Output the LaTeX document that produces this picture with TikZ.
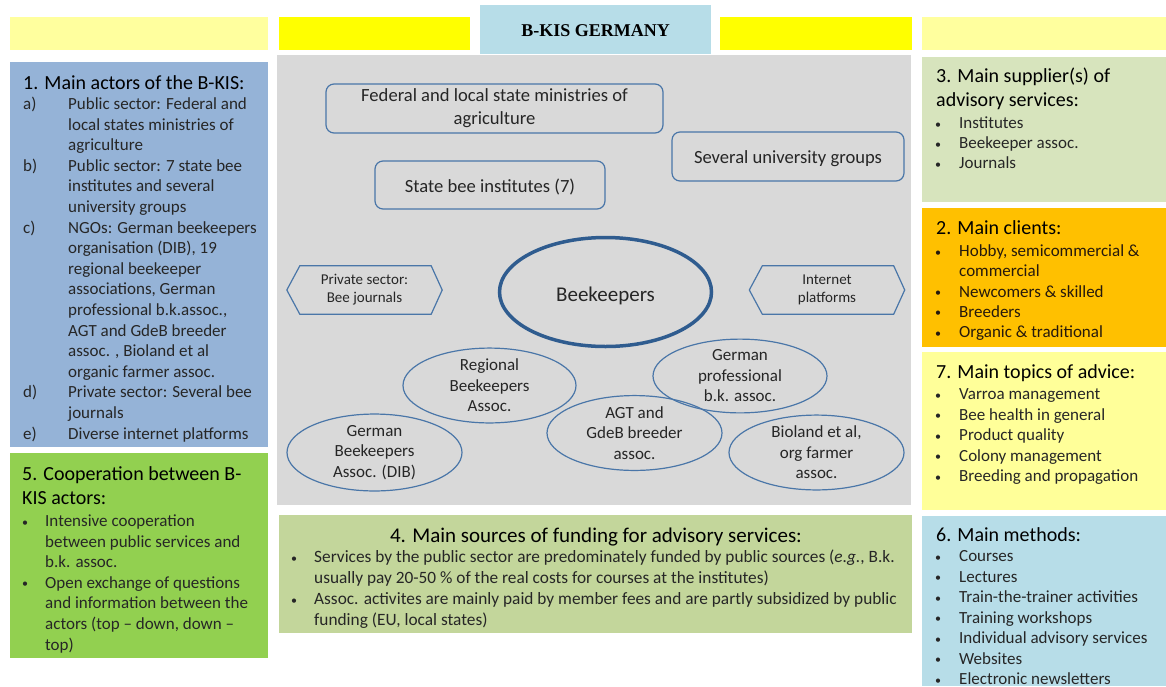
\documentclass[tikz,border=0pt]{standalone}
\usepackage{fontspec}
\setmainfont{Carlito}
\newfontfamily\titlefont{Liberation Serif}
\usetikzlibrary{shapes.geometric}
\definecolor{paleyel}{HTML}{FFFF9E}
\definecolor{brightyel}{HTML}{FFFF00}
\definecolor{titleblue}{HTML}{B7DDE8}
\definecolor{panelgray}{HTML}{D9D9D9}
\definecolor{actorblue}{HTML}{95B3D7}
\definecolor{coopgreen}{HTML}{92D050}
\definecolor{fundgreen}{HTML}{C3D69B}
\definecolor{supgreen}{HTML}{D7E4BD}
\definecolor{clientorange}{HTML}{FFC000}
\definecolor{topicyel}{HTML}{FFFF99}
\definecolor{methblue}{HTML}{B7DDE8}
\definecolor{nodeblue}{HTML}{4A76A8}
\definecolor{beeblue}{HTML}{2F5C8F}
\definecolor{bodytext}{HTML}{262626}
\newcommand\blt[1]{\makebox[#1][l]{\raisebox{0.5pt}{\fontsize{12}{12}\selectfont •}}}
\newcommand\lbl[2]{\makebox[#1][l]{#2}}
\newcommand\ind[1]{\hspace*{#1}}
\begin{document}
\begin{tikzpicture}[x=1pt,y=-1pt,
  panel/.style={draw=none,inner sep=0pt,anchor=north west},
  headtxt/.style={inner sep=0pt,anchor=base west,align=left,text=black,font=\fontsize{20}{24.3}\selectfont},
  bodytxt/.style={inner sep=0pt,anchor=base west,align=left,text=bodytext,font=\fontsize{17}{20.6}\selectfont},
  rbox/.style={draw=nodeblue,line width=1.2pt,rounded corners=8pt,inner sep=0pt,align=center,text=bodytext,font=\fontsize{18.6}{23}\selectfont},
  hexbox/.style={draw=none,inner sep=0pt,align=center,text=bodytext,font=\fontsize{15}{18}\selectfont,minimum width=155pt,minimum height=48pt},
  hexline/.style={draw=nodeblue,line width=1.2pt},
  oval/.style={ellipse,draw=nodeblue,line width=1.2pt,inner sep=0pt,align=center,text=bodytext,font=\fontsize{17}{20.5}\selectfont},
]
\useasboundingbox (0,0) rectangle (1166,686);
\fill[white] (0,0) rectangle (1166,686);

% top strips and title
\node[panel,fill=paleyel,minimum width=258pt,minimum height=33pt] (strip1) at (10,17) {};
\node[panel,fill=brightyel,minimum width=191pt,minimum height=33pt] (strip2) at (279,17) {};
\node[panel,fill=brightyel,minimum width=192pt,minimum height=33pt] (strip3) at (720,17) {};
\node[panel,fill=paleyel,minimum width=244pt,minimum height=33pt] (strip4) at (922,17) {};
\node[panel,fill=panelgray,minimum width=634pt,minimum height=450pt] (center) at (277,55) {};
\node[panel,fill=titleblue,minimum width=231pt,minimum height=49pt] (title) at (480,5) {};
\node[inner sep=0pt,font=\titlefont\bfseries\fontsize{18}{18}\selectfont,text=black] (titletxt) at (595.5,31) {B-KIS GERMANY};

% left panels (anchor base = baseline of the LAST line)
\node[panel,fill=actorblue,minimum width=258pt,minimum height=385pt] (actors) at (10,62) {};
\node[headtxt] (actorsh) at (23,89.5) {1. Main actors of the B-KIS:};
\node[bodytxt] (actorsb) at (23,439.1) {%
\lbl{45pt}{a)}Public sector: Federal and\\
\ind{45pt}local states ministries of\\
\ind{45pt}agriculture\\
\lbl{45pt}{b)}Public sector: 7 state bee\\
\ind{45pt}institutes and several\\
\ind{45pt}university groups\\
\lbl{45pt}{c)}NGOs: German beekeepers\\
\ind{45pt}organisation (DIB), 19\\
\ind{45pt}regional beekeeper\\
\ind{45pt}associations, German\\
\ind{45pt}professional b.k.assoc.,\\
\ind{45pt}AGT and GdeB breeder\\
\ind{45pt}assoc. , Bioland et al\\
\ind{45pt}organic farmer assoc.\\
\lbl{45pt}{d)}Private sector: Several bee\\
\ind{45pt}journals\\
\lbl{45pt}{e)}Diverse internet platforms};

\node[panel,fill=coopgreen,minimum width=258pt,minimum height=205pt] (coop) at (10,453) {};
\node[headtxt] (cooph) at (22,504.8) {5. Cooperation between B-\\KIS actors:};
\node[bodytxt] (coopb) at (22,650.1) {%
\blt{23pt}Intensive cooperation\\
\ind{23pt}between public services and\\
\ind{23pt}b.k. assoc.\\
\blt{23pt}Open exchange of questions\\
\ind{23pt}and information between the\\
\ind{23pt}actors (top -- down, down --\\
\ind{23pt}top)};

% bottom centre panel
\node[panel,fill=fundgreen,minimum width=633pt,minimum height=118pt] (fund) at (279,515) {};
\node[inner sep=0pt,anchor=base,text=black,font=\fontsize{21}{24}\selectfont] (fundh) at (596,542) {4. Main sources of funding for advisory services:};
\node[bodytxt,font=\fontsize{17.3}{21}\selectfont] (fundb) at (291,625.5) {%
\blt{23pt}Services by the public sector are predominately funded by public sources (\textit{e.g.}, B.k.\\
\ind{23pt}usually pay 20-50 \% of the real costs for courses at the institutes)\\
\blt{23pt}Assoc. activites are mainly paid by member fees and are partly subsidized by public\\
\ind{23pt}funding (EU, local states)};

% right panels
\node[panel,fill=supgreen,minimum width=244pt,minimum height=145pt] (supp) at (922,57) {};
\node[headtxt] (supph) at (936,106.8) {3. Main supplier(s) of\\advisory services:};
\node[bodytxt,font=\fontsize{17}{20}\selectfont] (suppb) at (935,168.5) {%
\blt{24pt}Institutes\\
\blt{24pt}Beekeeper assoc.\\
\blt{24pt}Journals};

\node[panel,fill=clientorange,minimum width=244pt,minimum height=139pt] (clients) at (922,208) {};
\node[headtxt] (clientsh) at (936,234.5) {2. Main clients:};
\node[bodytxt,font=\fontsize{17}{20.3}\selectfont,text=black!80!brown] (clientsb) at (935,337.7) {%
\blt{24pt}Hobby, semicommercial \&\\
\ind{24pt}commercial\\
\blt{24pt}Newcomers \& skilled\\
\blt{24pt}Breeders\\
\blt{24pt}Organic \& traditional};

\node[panel,fill=topicyel,minimum width=244pt,minimum height=158pt] (topics) at (922,352) {};
\node[headtxt] (topicsh) at (936,378.5) {7. Main topics of advice:};
\node[bodytxt,font=\fontsize{17}{20.5}\selectfont] (topicsb) at (935,481.5) {%
\blt{24pt}Varroa management\\
\blt{24pt}Bee health in general\\
\blt{24pt}Product quality\\
\blt{24pt}Colony management\\
\blt{24pt}Breeding and propagation};

\node[panel,fill=methblue,minimum width=244pt,minimum height=170pt] (methods) at (922,516) {};
\node[headtxt] (methodsh) at (936,541.5) {6. Main methods:};
\node[bodytxt,font=\fontsize{17}{20.5}\selectfont] (methodsb) at (935,684.5) {%
\blt{24pt}Courses\\
\blt{24pt}Lectures\\
\blt{24pt}Train-the-trainer activities\\
\blt{24pt}Training workshops\\
\blt{24pt}Individual advisory services\\
\blt{24pt}Websites\\
\blt{24pt}Electronic newsletters};

% centre actors
\node[rbox,minimum width=337pt,minimum height=49pt] (fed) at (494.5,108.5) {Federal and local state ministries of\\agriculture};
\node[rbox,minimum width=232pt,minimum height=49pt] (univ) at (788,156.5) {\raisebox{-2pt}[\height][\depth]{Several university groups}};
\node[rbox,minimum width=230pt,minimum height=48pt] (inst) at (490,185) {\raisebox{-2pt}[\height][\depth]{State bee institutes (7)}};

\node[hexbox] (priv) at (364.5,290) {Private sector:\\Bee journals};
\draw[hexline] (priv.west) -- ([xshift=13pt]priv.north west) -- ([xshift=-11pt]priv.north east) -- (priv.east) -- ([xshift=-11pt]priv.south east) -- ([xshift=13pt]priv.south west) -- cycle;
\node[hexbox] (inet) at (827,290) {Internet\\platforms};
\draw[hexline] (inet.west) -- ([xshift=13pt]inet.north west) -- ([xshift=-11pt]inet.north east) -- (inet.east) -- ([xshift=-11pt]inet.south east) -- ([xshift=13pt]inet.south west) -- cycle;

\node[oval,draw=beeblue,line width=3.5pt,minimum width=212pt,minimum height=109pt,font=\fontsize{21}{26}\selectfont] (bee) at (605.5,292) {\raisebox{-4pt}[\height][\depth]{Beekeepers}};

\node[oval,minimum width=173pt,minimum height=65pt] (regional) at (489.5,385.5) {Regional\\Beekeepers\\Assoc.};
\node[oval,minimum width=175pt,minimum height=69pt] (dib) at (374.5,452.5) {German\\Beekeepers\\Assoc. (DIB)};
\node[oval,minimum width=174pt,minimum height=66pt] (prof) at (740,376) {German\\professional\\b.k. assoc.};
\node[oval,minimum width=175pt,minimum height=68pt] (agt) at (634.5,433) {AGT and\\GdeB breeder\\assoc.};
\node[oval,minimum width=175pt,minimum height=69pt] (bio) at (816.5,452.5) {Bioland et al,\\org farmer\\assoc.};
\end{tikzpicture}
\end{document}
